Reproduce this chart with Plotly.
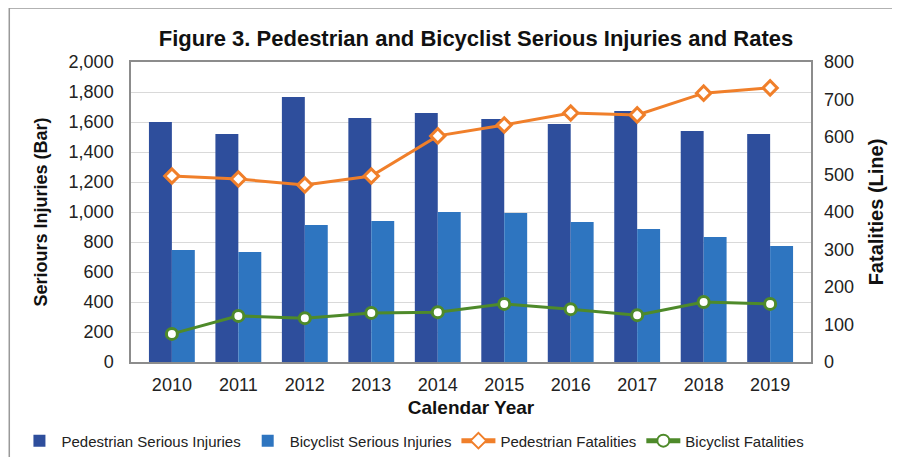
import plotly.graph_objects as go

years = ["2010", "2011", "2012", "2013", "2014", "2015", "2016", "2017", "2018", "2019"]
ped_injuries = [1600, 1520, 1767, 1627, 1660, 1620, 1587, 1673, 1540, 1520]
bike_injuries = [747, 733, 913, 940, 1000, 993, 933, 887, 833, 773]
ped_fatal = [496, 488, 472, 496, 603, 632, 664, 659, 717, 731]
bike_fatal = [75, 123, 117, 131, 133, 155, 141, 125, 160, 155]

font = "Liberation Sans, Arial, sans-serif"
fig = go.Figure()
fig.add_trace(go.Bar(x=years, y=ped_injuries, name="Pedestrian Serious Injuries",
                     marker=dict(color="#2E4E9C", line=dict(width=0))))
fig.add_trace(go.Bar(x=years, y=bike_injuries, name="Bicyclist Serious Injuries",
                     marker=dict(color="#2E75C0", line=dict(width=0))))
fig.add_trace(go.Scatter(x=years, y=ped_fatal, name="Pedestrian Fatalities", yaxis="y2",
                         mode="lines+markers", line=dict(color="#F07F2A", width=3),
                         marker=dict(symbol="diamond", size=11, color="white",
                                     line=dict(color="#F07F2A", width=3))))
fig.add_trace(go.Scatter(x=years, y=bike_fatal, name="Bicyclist Fatalities", yaxis="y2",
                         mode="lines+markers", line=dict(color="#4E8A2A", width=3),
                         marker=dict(symbol="circle", size=11, color="white",
                                     line=dict(color="#4E8A2A", width=3))))

fig.update_layout(
    width=892, height=449,
    margin=dict(l=123, r=89, t=54, b=95, autoexpand=False),
    paper_bgcolor="white", plot_bgcolor="white",
    font=dict(family=font, color="#222222"),
    title=dict(text="<b>Figure 3. Pedestrian and Bicyclist Serious Injuries and Rates</b>",
               x=0.5247, xanchor="center", y=0.933, yanchor="middle",
               font=dict(size=22, color="#111111")),
    barmode="group", bargap=0.31, bargroupgap=0,
    xaxis=dict(title=dict(text="<b>Calendar Year</b>", font=dict(size=19, color="#111111"), standoff=6),
               tickfont=dict(size=18, color="#222222"), showline=True, linecolor="#8C8C8C",
               linewidth=1.5, mirror=True, ticks="", showgrid=False, ticklabelstandoff=6),
    yaxis=dict(title=dict(text="<b>Seriours Injuries (Bar)</b>", font=dict(size=18, color="#111111"), standoff=16),
               range=[0, 2000], dtick=200, tickformat=",d",
               tickfont=dict(size=18, color="#222222"), showline=True, linecolor="#8C8C8C",
               linewidth=1.5, mirror=True, gridcolor="#D9D9D9", gridwidth=1, zeroline=False, ticks="",
               ticklabelstandoff=12),
    yaxis2=dict(title=dict(text="<b>Fatalities (Line)</b>", font=dict(size=20, color="#111111"), standoff=15),
                overlaying="y", side="right", range=[0, 800], dtick=100,
                tickfont=dict(size=18, color="#222222"), showgrid=False, zeroline=False,
                showline=False, ticks="", ticklabelstandoff=12),
    legend=dict(orientation="h", x=-0.167, xanchor="left", y=-0.263, yanchor="middle",
                font=dict(size=15, color="#222222"), traceorder="normal",
                tracegroupgap=0, itemsizing="constant", itemwidth=34),
    shapes=[dict(type="rect", xref="paper", yref="paper", x0=-0.179, x1=1.15, y0=-0.35, y1=1.18,
                 line=dict(color="#999999", width=1.5), fillcolor="rgba(0,0,0,0)", layer="below")],
)

fig.write_html("out.html")
